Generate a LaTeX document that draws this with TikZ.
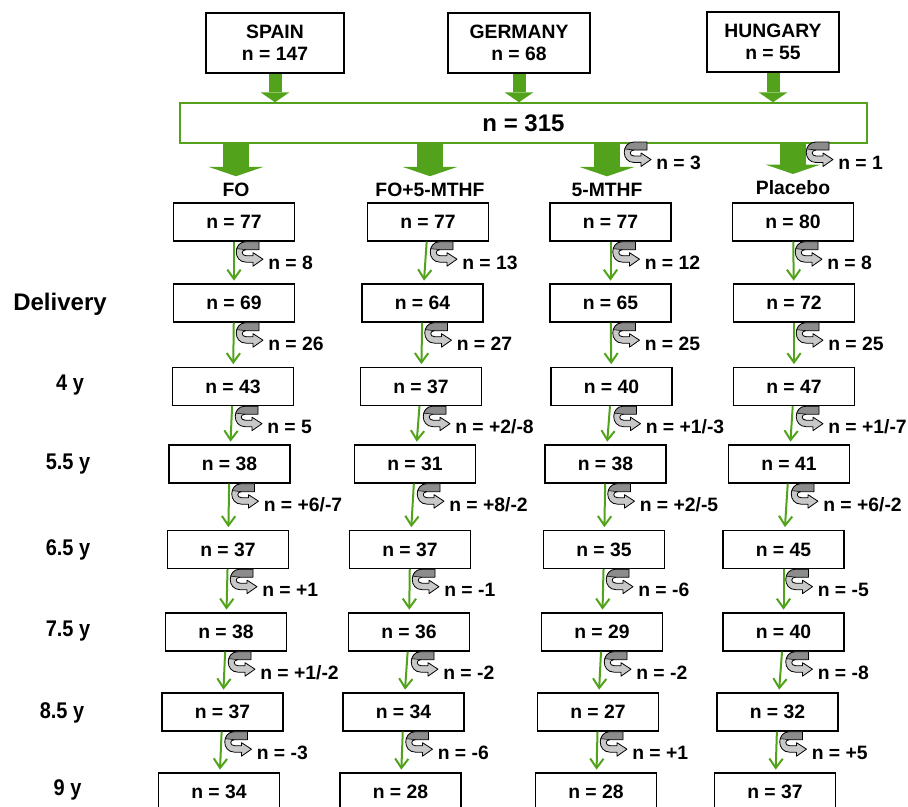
\documentclass[tikz,border=0pt]{standalone}
\usepackage{fontspec}
\setmainfont{Liberation Sans}
\newfontfamily\narrowfont[FakeStretch=0.88]{Liberation Sans}
\usetikzlibrary{positioning, calc, arrows.meta}
\definecolor{myGreen}{RGB}{82,163,27}
\definecolor{myDarkGray}{RGB}{140,140,140}
\definecolor{myLightGray}{RGB}{200,200,200}
\tikzset{countryNode/.style={draw, line width=1pt, minimum height=45pt, align=center, font=\fontsize{14.5}{16.5}\selectfont\bfseries}}
\tikzset{poolNode/.style={draw=myGreen, line width=1.1pt, minimum width=515pt, minimum height=30pt, font=\fontsize{18}{20}\selectfont\bfseries}}
\tikzset{countNode/.style={draw, line width=1pt, minimum width=90.75pt, minimum height=28.5pt, font=\fontsize{14.5}{16}\selectfont\bfseries}}
\tikzset{groupLabel/.style={inner sep=2pt, font=\fontsize{14.5}{16}\selectfont\bfseries}}
\tikzset{timeLabel/.style={inner sep=0pt, anchor=base, font=\fontsize{17}{19}\narrowfont\bfseries}}
\tikzset{lossLabel/.style={inner sep=0pt, anchor=west, font=\fontsize{14.5}{16}\selectfont\bfseries}}
\tikzset{thinArrow/.style={draw=myGreen, line width=1.5pt, -{Straight Barb[length=7pt,width=10pt]}, shorten >=2pt}}
\tikzset{bigArrow/.style={draw=myGreen, line width=19.5pt, -{Triangle[length=7pt,width=41pt,line width=0pt]}, shorten >=3pt}}
\tikzset{smallArrow/.style={draw=myGreen, line width=9.75pt, -{Triangle[length=7.5pt,width=21.75pt,line width=0pt]}}}
\tikzset{lossArrow/.pic={
  \fill[myLightGray] (23,0) -- (10,0) .. controls (-3,0) and (-3,20.5) .. (10,20.5) -- (17,20.5) -- (17,24.5) -- (27,17.5) -- (17,11) -- (17,14) -- (10,14) .. controls (5,14) and (5,8) .. (10,8) -- (23,8) -- cycle;
  \fill[myDarkGray] (23,0) -- (10,0) .. controls (4.5,0) and (1.5,3) .. (0.7,7) -- (10,8) -- (23,8) -- cycle;
  \draw[line width=0.6pt, line join=round] (23,0) -- (10,0) .. controls (-3,0) and (-3,20.5) .. (10,20.5) -- (17,20.5) -- (17,24.5) -- (27,17.5) -- (17,11) -- (17,14) -- (10,14) .. controls (5,14) and (5,8) .. (10,8) -- (23,8) -- cycle;
  \draw[line width=0.4pt] (0.7,7) -- (10,8);
  \node[lossLabel] (-txt) at (32,21) {\tikzpictext};
}}

\begin{document}
\begin{tikzpicture}[x=0.75pt, y=-0.75pt]

\useasboundingbox (0,0) rectangle (908,807);

% Countries
\node[countryNode, minimum width=103.5pt] (spain) at (275,43) {SPAIN\\n = 147};
\node[countryNode, minimum width=106.5pt] (germany) at (519,43) {GERMANY\\n = 68};
\node[countryNode, minimum width=99pt] (hungary) at (773,42) {HUNGARY\\n = 55};

% Pooled sample
\node[poolNode] (all) at (523.5,123) {n = 315};
\draw[smallArrow] (spain.south) -- (spain.south |- all.north);
\draw[smallArrow] (germany.south) -- (germany.south |- all.north);
\draw[smallArrow] (hungary.south) -- (hungary.south |- all.north);

% Groups
\node[groupLabel] (foLab) at (236,190) {FO};
\node[groupLabel] (fmLab) at (430,190) {FO+5-MTHF};
\node[groupLabel] (mtLab) at (607,190) {5-MTHF};
\node[groupLabel] (plLab) at (793,188) {Placebo};
\draw[bigArrow] (all.south -| foLab) -- (foLab);
\draw[bigArrow] (all.south -| fmLab) -- (fmLab);
\draw[bigArrow] (all.south -| mtLab) -- (mtLab);
\draw[bigArrow] (all.south -| plLab) -- (plLab);
\pic[pic text={n = 3}] (mtL0) at (624,142) {lossArrow};
\pic[pic text={n = 1}] (plL0) at (806,142) {lossArrow};

% Time points
\node[timeLabel, font=\fontsize{18}{20}\selectfont\bfseries] (tDel) at (60,310) {Delivery};
\node[timeLabel] (t4) at (70,390) {4 y};
\node[timeLabel] (t55) at (68,469) {5.5 y};
\node[timeLabel] (t65) at (68,555) {6.5 y};
\node[timeLabel] (t75) at (68,636) {7.5 y};
\node[timeLabel] (t85) at (62,718) {8.5 y};
\node[timeLabel] (t9) at (67.5,795) {9 y};

% FO arm
\node[countNode] (fo1) at (234,222) {n = 77};
\node[countNode] (fo2) at (234,303) {n = 69};
\node[countNode] (fo3) at (233,386.5) {n = 43};
\node[countNode] (fo4) at (229.5,464) {n = 38};
\node[countNode] (fo5) at (228,549.5) {n = 37};
\node[countNode] (fo6) at (226,632) {n = 38};
\node[countNode] (fo7) at (222.5,712) {n = 37};
\node[countNode] (fo8) at (219,792) {n = 34};
\draw[thinArrow] (fo1) -- (fo2);
\draw[thinArrow] (fo2) -- (fo3);
\draw[thinArrow] (fo3) -- (fo4);
\draw[thinArrow] (fo4) -- (fo5);
\draw[thinArrow] (fo5) -- (fo6);
\draw[thinArrow] (fo6) -- (fo7);
\draw[thinArrow] (fo7) -- (fo8);
\pic[pic text={n = 8}] (foL1) at ($(fo1.south)+(2,0)$) {lossArrow};
\pic[pic text={n = 26}] (foL2) at ($(fo2.south)+(2,0)$) {lossArrow};
\pic[pic text={n = 5}] (foL3) at ($(fo3.south)+(2,0)$) {lossArrow};
\pic[pic text={n = +6/-7}] (foL4) at ($(fo4.south)+(2,0)$) {lossArrow};
\pic[pic text={n = +1}] (foL5) at ($(fo5.south)+(2,0)$) {lossArrow};
\pic[pic text={n = +1/-2}] (foL6) at ($(fo6.south)+(2,0)$) {lossArrow};
\pic[pic text={n = -3}] (foL7) at ($(fo7.south)+(2,0)$) {lossArrow};

% FO+5-MTHF arm
\node[countNode] (fm1) at (428,222) {n = 77};
\node[countNode] (fm2) at (422.5,303) {n = 64};
\node[countNode] (fm3) at (421,386.5) {n = 37};
\node[countNode] (fm4) at (415,464) {n = 31};
\node[countNode] (fm5) at (410,549.5) {n = 37};
\node[countNode] (fm6) at (409,632) {n = 36};
\node[countNode] (fm7) at (403.5,712) {n = 34};
\node[countNode] (fm8) at (400.5,792) {n = 28};
\draw[thinArrow] (fm1) -- (fm2);
\draw[thinArrow] (fm2) -- (fm3);
\draw[thinArrow] (fm3) -- (fm4);
\draw[thinArrow] (fm4) -- (fm5);
\draw[thinArrow] (fm5) -- (fm6);
\draw[thinArrow] (fm6) -- (fm7);
\draw[thinArrow] (fm7) -- (fm8);
\pic[pic text={n = 13}] (fmL1) at ($(fm1.south)+(2,0)$) {lossArrow};
\pic[pic text={n = 27}] (fmL2) at ($(fm2.south)+(2,0)$) {lossArrow};
\pic[pic text={n = +2/-8}] (fmL3) at ($(fm3.south)+(2,0)$) {lossArrow};
\pic[pic text={n = +8/-2}] (fmL4) at ($(fm4.south)+(2,0)$) {lossArrow};
\pic[pic text={n = -1}] (fmL5) at ($(fm5.south)+(2,0)$) {lossArrow};
\pic[pic text={n = -2}] (fmL6) at ($(fm6.south)+(2,0)$) {lossArrow};
\pic[pic text={n = -6}] (fmL7) at ($(fm7.south)+(2,0)$) {lossArrow};

% 5-MTHF arm
\node[countNode] (mt1) at (610.5,222) {n = 77};
\node[countNode] (mt2) at (610.5,303) {n = 65};
\node[countNode] (mt3) at (611.5,386.5) {n = 40};
\node[countNode] (mt4) at (605.5,464) {n = 38};
\node[countNode] (mt5) at (604,549.5) {n = 35};
\node[countNode] (mt6) at (602,632) {n = 29};
\node[countNode] (mt7) at (598,712) {n = 27};
\node[countNode] (mt8) at (596,792) {n = 28};
\draw[thinArrow] (mt1) -- (mt2);
\draw[thinArrow] (mt2) -- (mt3);
\draw[thinArrow] (mt3) -- (mt4);
\draw[thinArrow] (mt4) -- (mt5);
\draw[thinArrow] (mt5) -- (mt6);
\draw[thinArrow] (mt6) -- (mt7);
\draw[thinArrow] (mt7) -- (mt8);
\pic[pic text={n = 12}] (mtL1) at ($(mt1.south)+(2,0)$) {lossArrow};
\pic[pic text={n = 25}] (mtL2) at ($(mt2.south)+(2,0)$) {lossArrow};
\pic[pic text={n = +1/-3}] (mtL3) at ($(mt3.south)+(2,0)$) {lossArrow};
\pic[pic text={n = +2/-5}] (mtL4) at ($(mt4.south)+(2,0)$) {lossArrow};
\pic[pic text={n = -6}] (mtL5) at ($(mt5.south)+(2,0)$) {lossArrow};
\pic[pic text={n = -2}] (mtL6) at ($(mt6.south)+(2,0)$) {lossArrow};
\pic[pic text={n = +1}] (mtL7) at ($(mt7.south)+(2,0)$) {lossArrow};

% Placebo arm
\node[countNode] (pl1) at (793,222) {n = 80};
\node[countNode] (pl2) at (794,303) {n = 72};
\node[countNode] (pl3) at (794,386.5) {n = 47};
\node[countNode] (pl4) at (789,464) {n = 41};
\node[countNode] (pl5) at (783.5,549.5) {n = 45};
\node[countNode] (pl6) at (783.5,632) {n = 40};
\node[countNode] (pl7) at (777.5,712) {n = 32};
\node[countNode] (pl8) at (775,792) {n = 37};
\draw[thinArrow] (pl1) -- (pl2);
\draw[thinArrow] (pl2) -- (pl3);
\draw[thinArrow] (pl3) -- (pl4);
\draw[thinArrow] (pl4) -- (pl5);
\draw[thinArrow] (pl5) -- (pl6);
\draw[thinArrow] (pl6) -- (pl7);
\draw[thinArrow] (pl7) -- (pl8);
\pic[pic text={n = 8}] (plL1) at ($(pl1.south)+(2,0)$) {lossArrow};
\pic[pic text={n = 25}] (plL2) at ($(pl2.south)+(2,0)$) {lossArrow};
\pic[pic text={n = +1/-7}] (plL3) at ($(pl3.south)+(2,0)$) {lossArrow};
\pic[pic text={n = +6/-2}] (plL4) at ($(pl4.south)+(2,0)$) {lossArrow};
\pic[pic text={n = -5}] (plL5) at ($(pl5.south)+(2,0)$) {lossArrow};
\pic[pic text={n = -8}] (plL6) at ($(pl6.south)+(2,0)$) {lossArrow};
\pic[pic text={n = +5}] (plL7) at ($(pl7.south)+(2,0)$) {lossArrow};

\end{tikzpicture}
\end{document}
